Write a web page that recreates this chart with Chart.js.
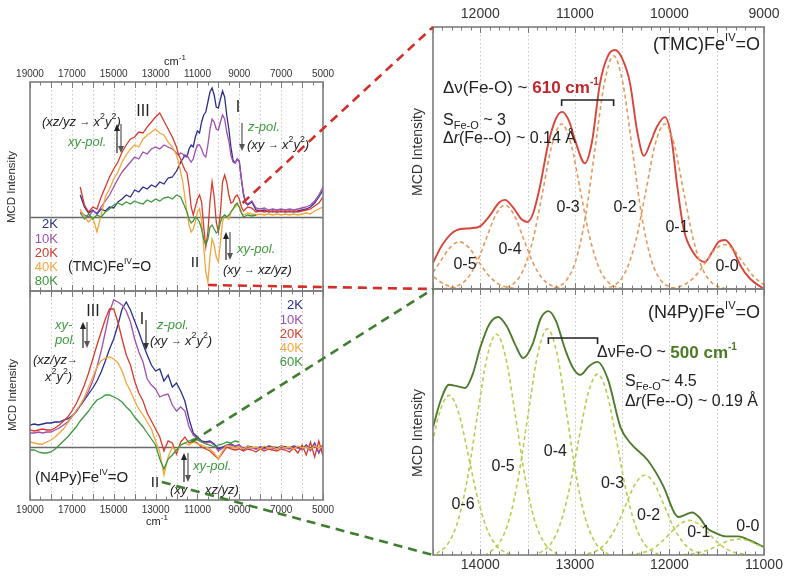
<!DOCTYPE html>
<html>
<head>
<meta charset="utf-8">
<script src="https://cdn.jsdelivr.net/npm/chart.js@4.4.1/dist/chart.umd.min.js"></script>
<style>
  body { margin: 0; background: #fff; }
  #wrap { position: relative; width: 800px; height: 581px; background: #fff; }
  #wrap canvas { position: absolute; left: 0; top: 0; }
</style>
</head>
<body>
<div id="wrap">
  <canvas id="tmcSpec" width="800" height="581"></canvas>
  <canvas id="n4pySpec" width="800" height="581"></canvas>
  <canvas id="tmcFit" width="800" height="581"></canvas>
  <canvas id="n4pyFit" width="800" height="581"></canvas>
  <canvas id="links" width="800" height="581"></canvas>
</div>
<script>
// ---- left top: (TMC)Fe(IV)=O MCD spectra, wavenumber grid in cm-1
const tmcWave = [
  16600, 16400, 16200, 16000, 15800, 15600, 15400, 15200, 15000, 14800, 14600, 14400,
  14200, 14000, 13800, 13600, 13400, 13200, 13000, 12800, 12600, 12400, 12200, 12000,
  11900, 11800, 11700, 11600, 11500, 11400, 11300, 11200, 11100, 11000, 10900, 10800,
  10700, 10600, 10500, 10400, 10300, 10200, 10100, 10000, 9900, 9800, 9700, 9600,
  9500, 9400, 9300, 9200, 9100, 9000, 8900, 8800, 8700, 8600,
  8400, 8200, 8000, 7800, 7600, 7400, 7200, 7000, 6800, 6600, 6400, 6200, 6000, 5800, 5600, 5400, 5200, 5000
];
const tmc2K = [
  .22, .10, .04, .07, .03, .08, .06, .10, .09, .15, .18, .22,
  .20, .27, .25, .30, .28, .32, .30, .35, .33, .39, .40, .46,
  .50, .55, .58, .62, .60, .68, .72, .70, .80, .86, .84, .95,
  1.02, 1.05, 1.15, 1.25, 1.29, 1.22, 1.10, 1.09, 1.18, 1.26, 1.20, 1.02,
  .88, .70, .57, .54, .58, .56, .38, .22, .14, .12,
  .15, .07, .06, .07, .05, .06, .05, .06, .05, .06, .05, .06, .07, .08, .10, .14, .20, .27
];
const tmc10K = [
  .05, .02, .00, .06, .04, .10, .16, .22, .30, .38, .45, .50,
  .55, .60, .58, .65, .63, .68, .70, .68, .72, .70, .68, .64,
  .62, .64, .63, .60, .62, .58, .55, .58, .66, .72, .72, .68,
  .62, .60, .72, .88, .98, .95, .88, .87, .95, 1.02, .98, .85,
  .76, .62, .55, .54, .58, .55, .38, .24, .15, .13,
  .16, .09, .08, .09, .07, .08, .07, .08, .07, .08, .07, .08, .09, .10, .12, .16, .22, .30
];
const tmc20K = [
  .30, .12, .05, .10, .08, .20, .30, .40, .48, .55, .65, .72,
  .78, .80, .85, .84, .90, .95, 1.00, 1.04, .96, .88, .80, .70,
  .62, .58, .52, .47, .44, .30, .10, .02, .10, .18, .22, .15,
  -.10, -.30, -.15, .15, .35, .20, -.05, -.15, .05, .35, .42, .35,
  .22, .14, .15, .20, .22, .18, .10, .06, .08, .10,
  .09, .05, .06, .05, .06, .05, .06, .05, .06, .05, .06, .05, .06, .07, .08, .11, .14, .20
];
const tmc40K = [
  .08, .00, -.05, .00, -.15, .02, .20, .28, .38, .45, .55, .62,
  .68, .72, .70, .78, .82, .85, .88, .84, .82, .75, .70, .62,
  .55, .45, .35, .20, .05, -.08, -.15, -.12, -.05, .05, .08, -.05,
  -.30, -.55, -.65, -.40, -.22, -.28, -.40, -.45, -.25, -.05, .02, .00,
  -.02, .05, .08, .10, .12, .10, .05, .02, .03, .04,
  .03, .02, .03, .02, .03, .02, .03, .02, .03, .02, .03, .02, .03, .04, .03, .06, .08, .10
];
const tmc80K = [
  .04, -.02, .03, -.02, .02, .00, .05, .08, .12, .14, .12, .15,
  .13, .16, .14, .13, .17, .15, .18, .16, .19, .20, .18, .22,
  .21, .20, .15, .10, .05, -.02, -.06, -.04, .00, -.02, -.05, -.12,
  -.22, -.28, -.22, -.10, -.08, -.12, -.16, -.14, -.05, .00, .02, .00,
  .02, .05, .08, .12, .14, .10, .04, .00, .01, .02,
  .01, .02, null, null, null, null, null, null, null, null, null, null, null, null, null, null, null, null
];

// ---- left bottom: (N4Py)Fe(IV)=O MCD spectra
const n4pyWave = [
  19000, 18800, 18600, 18400, 18200, 18000, 17800, 17600, 17400, 17200,
  17000, 16800, 16600, 16400, 16200, 16000, 15800, 15600, 15400, 15200,
  15000, 14800, 14600, 14400, 14200, 14000, 13800, 13600, 13400, 13200,
  13000, 12800, 12600, 12400, 12200, 12000, 11800, 11600, 11400, 11200,
  11000, 10800, 10600, 10400, 10200, 10000, 9800, 9600, 9400, 9200,
  9000, 8800, 8600, 8400, 8200, 8000, 7800, 7600, 7400, 7200,
  7000, 6800, 6600, 6400, 6200, 6000, 5800, 5600, 5400, 5200,
  5000
];
const n4py2K = [
  .22, .23, .22, .23, .24, .24, .25, .25, .27, .28,
  .31, .35, .41, .47, .53, .59, .66, .75, .86, .98,
  1.08, 1.22, 1.38, 1.45, 1.37, 1.26, 1.15, 1.03, .92, .82,
  .76, .78, .66, .72, .60, .64, .56, .46, .28, .14,
  .10, .06, .05, .06, .03, -.02, .00, .02, .03, .01,
  .02, -.03, .01, .00, -.02, .00, -.01, .01, .00, -.01,
  .01, .00, -.01, .01, .00, -.02, .02, -.03, .04, -.06,
  .03
];
const n4py10K = [
  .14, .14, .15, .14, .15, .15, .17, .19, .22, .25,
  .30, .36, .42, .48, .56, .66, .80, .96, 1.15, 1.35,
  1.47, 1.45, 1.42, 1.36, 1.25, 1.08, .95, .85, .68, .62,
  .58, .50, .52, .53, .42, .36, .40, .36, .20, .12,
  .08, .05, .04, .05, .02, -.04, -.01, .02, .02, .01,
  .02, -.02, .00, -.01, -.02, -.01, -.02, .00, -.01, -.02,
  .00, -.01, -.02, .00, -.01, -.03, .01, -.04, .03, -.05,
  .02
];
const n4py20K = [
  .17, .16, .17, .18, .17, .17, .19, .22, .26, .30,
  .36, .43, .52, .62, .74, .88, 1.02, 1.15, 1.28, 1.38,
  1.38, 1.25, 1.08, .92, .82, .66, .54, .46, .34, .26,
  .18, .10, -.04, .06, .04, -.07, .05, .10, .04, .06,
  .04, .00, -.02, -.04, -.08, -.12, -.06, .00, -.02, -.03,
  -.02, -.04, -.02, -.03, -.05, -.02, -.04, -.02, -.03, -.04,
  -.02, -.03, -.05, -.01, -.06, .02, -.08, .05, -.10, .06,
  -.09
];
const n4py40K = [
  .05, .04, .03, .03, .05, .07, .10, .14, .18, .24,
  .30, .36, .42, .50, .60, .70, .80, .86, .89, .90,
  .88, .84, .76, .64, .56, .46, .38, .32, .25, .18,
  .06, -.05, -.28, -.10, .00, -.04, .02, .04, .02, .05,
  .03, .02, .00, -.02, -.06, -.12, -.04, .02, .00, -.01,
  .00, -.02, .01, -.01, .00, -.02, .01, -.01, .00, -.02,
  .01, -.01, .00, -.02, .01, -.01, .00, -.02, .01, -.01,
  .00
];
const n4py60K = [
  -.03, -.03, -.05, -.06, -.06, -.05, -.02, .02, .06, .10,
  .15, .20, .26, .31, .36, .42, .47, .49, .52, .52,
  .50, .48, .45, .40, .36, .30, .25, .20, .14, .08,
  .02, -.12, -.22, -.12, -.08, -.03, .02, .04, .06, .08,
  .07, .05, .03, .02, .00, .02, .03, .05, .04, .06,
  .05, null, null, null, null, null, null, null, null, null,
  null, null, null, null, null, null, null, null, null, null,
  null
];
const tempLabelsTop = ['2K', '10K', '20K', '40K', '80K'];
const tempLabelsBottom = ['2K', '10K', '20K', '40K', '60K'];
const spectraTicks = [19000, 17000, 15000, 13000, 11000, 9000, 7000, 5000];

// ---- right top: (TMC) band fit, [cm-1, MCD] pairs
const tmcFit = [
  [12500, .10], [12400, .17], [12250, .225], [12100, .232], [12000, .24], [11900, .28], [11800, .33],
  [11740, .34], [11650, .31], [11560, .265], [11500, .256], [11440, .29], [11370, .39], [11280, .557],
  [11200, .65], [11136, .676], [11060, .64], [11000, .57], [10893, .48], [10820, .56], [10734, .786],
  [10650, .89], [10576, .912], [10500, .88], [10417, .786], [10340, .60], [10269, .508], [10200, .56],
  [10131, .62], [10047, .656], [9980, .58], [9920, .40], [9850, .23], [9750, .14], [9624, .103],
  [9550, .14], [9480, .18], [9412, .187], [9340, .16], [9250, .09], [9150, .04], [9000, .0]
];
const tmcBand00 = [[8770, 0], [8920, .006], [9020, .021], [9120, .052], [9220, .10], [9320, .149], [9420, .17], [9520, .149], [9620, .10], [9720, .052], [9820, .021], [9920, .006], [10070, 0]];
const tmcBand01 = [[9400, 0], [9550, .023], [9650, .077], [9750, .193], [9850, .372], [9950, .553], [10050, .63], [10150, .553], [10250, .372], [10350, .193], [10450, .077], [10550, .023], [10700, 0]];
const tmcBand02 = [[9940, 0], [10090, .033], [10190, .109], [10290, .272], [10390, .526], [10490, .781], [10590, .89], [10690, .781], [10790, .526], [10890, .272], [10990, .109], [11090, .033], [11240, 0]];
const tmcBand03 = [[10490, 0], [10640, .023], [10740, .077], [10840, .193], [10940, .372], [11040, .553], [11140, .63], [11240, .553], [11340, .372], [11440, .193], [11540, .077], [11640, .023], [11790, 0]];
const tmcBand04 = [[11090, 0], [11240, .012], [11340, .039], [11440, .098], [11540, .189], [11640, .281], [11740, .32], [11840, .281], [11940, .189], [12040, .098], [12140, .039], [12240, .012], [12390, 0]];
const tmcBand05 = [[11570, 0], [11720, .007], [11820, .022], [11920, .055], [12020, .106], [12120, .158], [12220, .18], [12320, .158], [12420, .106], [12520, .055], [12620, .022], [12720, .007], [12870, 0]];
const tmcBand06 = [[12110, 0], [12260, .004], [12360, .015], [12460, .037], [12560, .071], [12660, .105], [12760, .12]];
const tmcBandNames = ['0-5', '0-4', '0-3', '0-2', '0-1', '0-0'];
const tmcTicks = [12000, 11000, 10000, 9000];

// ---- right bottom: (N4Py) band fit
const n4pyFit = [
  [14500, .48], [14420, .58], [14330, .64], [14250, .635], [14160, .628], [14080, .68], [14000, .78],
  [13900, .87], [13811, .895], [13720, .86], [13630, .79], [13546, .74], [13450, .79], [13360, .89],
  [13280, .917], [13200, .88], [13100, .77], [13015, .70], [12941, .677], [12850, .71], [12761, .726],
  [12650, .66], [12517, .48], [12411, .42], [12231, .357], [12061, .256], [11950, .16], [11902, .143],
  [11840, .15], [11760, .16], [11680, .14], [11600, .10], [11531, .086], [11400, .07], [11270, .07],
  [11150, .055], [11000, .03]
];
const n4pyBand00 = [[10620, 0], [10770, .004], [10870, .01], [10970, .022], [11070, .038], [11170, .054], [11270, .06], [11370, .054], [11470, .038], [11570, .022], [11670, .01], [11770, .004], [11920, 0]];
const n4pyBand01 = [[11140, 0], [11290, .008], [11390, .021], [11490, .047], [11590, .083], [11690, .116], [11790, .13], [11890, .116], [11990, .083], [12090, .047], [12190, .021], [12290, .008], [12440, 0]];
const n4pyBand02 = [[11610, 0], [11760, .018], [11860, .049], [11960, .108], [12060, .19], [12160, .268], [12260, .30], [12360, .268], [12460, .19], [12560, .108], [12660, .049], [12760, .018], [12910, 0]];
const n4pyBand03 = [[12110, 0], [12260, .04], [12360, .111], [12460, .245], [12560, .432], [12660, .607], [12760, .68], [12860, .607], [12960, .432], [13060, .245], [13160, .111], [13260, .04], [13410, 0]];
const n4pyBand04 = [[12640, 0], [12790, .05], [12890, .139], [12990, .306], [13090, .54], [13190, .759], [13290, .85], [13390, .759], [13490, .54], [13590, .306], [13690, .139], [13790, .05], [13940, 0]];
const n4pyBand05 = [[13180, 0], [13330, .049], [13430, .135], [13530, .299], [13630, .527], [13730, .741], [13830, .83], [13930, .741], [14030, .527], [14130, .299], [14230, .135], [14330, .049], [14480, 0]];
const n4pyBand06 = [[13680, 0], [13830, .035], [13930, .098], [14030, .216], [14130, .381], [14230, .536], [14330, .60], [14430, .536], [14530, .381]];
const n4pyBandNames = ['0-6', '0-5', '0-4', '0-3', '0-2', '0-1', '0-0'];
const n4pyTicks = [14000, 13000, 12000, 11000];

const FONT = '"Liberation Sans", Arial, Helvetica, sans-serif';
const TXT = '#222';
const POL = '#3d9a3d';
const COL = { k2: '#2b2e8c', k10: '#a04fae', k20: '#d93a2b', k40: '#f5a63b', green: '#3c983c' };

// ---- drawing helpers
function rich(ctx, x, y, parts, align) {
  let w = 0;
  const segs = parts.map(p => {
    const o = p[2] || {};
    const f = (o.i ? 'italic ' : '') + (o.b ? 'bold ' : '') + p[1] + 'px ' + FONT;
    ctx.font = f;
    const pw = ctx.measureText(p[0]).width;
    w += pw;
    return { t: p[0], f, pw, dy: o.dy || 0, c: o.c || TXT };
  });
  let cx = align === 'right' ? x - w : align === 'center' ? x - w / 2 : x;
  ctx.save();
  ctx.textBaseline = 'middle';
  ctx.textAlign = 'left';
  segs.forEach(s => {
    ctx.font = s.f;
    ctx.fillStyle = s.c;
    ctx.fillText(s.t, cx, y + s.dy);
    cx += s.pw;
  });
  ctx.restore();
}
function vText(ctx, x, y, t, size) {
  ctx.save();
  ctx.translate(x, y);
  ctx.rotate(-Math.PI / 2);
  ctx.font = size + 'px ' + FONT;
  ctx.fillStyle = '#333';
  ctx.textAlign = 'center';
  ctx.textBaseline = 'middle';
  ctx.fillText(t, 0, 0);
  ctx.restore();
}
function vArrow(ctx, x, y1, y2, color) {
  const d = y2 > y1 ? 1 : -1;
  ctx.save();
  ctx.strokeStyle = color;
  ctx.fillStyle = color;
  ctx.lineWidth = 1.2;
  ctx.beginPath(); ctx.moveTo(x, y1); ctx.lineTo(x, y2 - 5 * d); ctx.stroke();
  ctx.beginPath(); ctx.moveTo(x, y2); ctx.lineTo(x - 3, y2 - 7 * d); ctx.lineTo(x + 3, y2 - 7 * d); ctx.closePath(); ctx.fill();
  ctx.restore();
}
function dblArrow(ctx, x, top, bottom) {
  vArrow(ctx, x, bottom, top, '#222');
  vArrow(ctx, x + 4, top, bottom, '#555');
}
// "x2y2" with superscripts
function x2y2(size) {
  const s = size * 0.68, dy = -size * 0.38;
  return [['x', size, { i: 1 }], ['2', s, { dy }], ['y', size, { i: 1 }], ['2', s, { dy }]];
}
function bracket(ctx, scale, v1, v2, y) {
  const a = scale.getPixelForValue(v1), b = scale.getPixelForValue(v2);
  ctx.save();
  ctx.strokeStyle = '#222';
  ctx.lineWidth = 1.6;
  ctx.beginPath();
  ctx.moveTo(a, y + 6); ctx.lineTo(a, y); ctx.lineTo(b, y); ctx.lineTo(b, y + 6);
  ctx.stroke();
  ctx.restore();
}

// frame: dotted grid, zero line, inward ticks, box
function frame(opts) {
  return {
    id: 'frame',
    beforeDatasetsDraw(chart) {
      const { ctx, chartArea: a, scales: { x, y } } = chart;
      ctx.save();
      ctx.strokeStyle = '#c6c6c6';
      ctx.lineWidth = 1;
      ctx.setLineDash([1.5, 2.5]);
      for (let v = x.min + opts.gridStep; v < x.max; v += opts.gridStep) {
        const px = Math.round(x.getPixelForValue(v)) + 0.5;
        ctx.beginPath(); ctx.moveTo(px, a.top); ctx.lineTo(px, a.bottom); ctx.stroke();
      }
      ctx.setLineDash([]);
      if (opts.zero) {
        const py = Math.round(y.getPixelForValue(0)) + 0.5;
        ctx.strokeStyle = '#6a6a6a';
        ctx.lineWidth = 1.3;
        ctx.beginPath(); ctx.moveTo(a.left, py); ctx.lineTo(a.right, py); ctx.stroke();
      }
      ctx.restore();
    },
    afterDatasetsDraw(chart) {
      const { ctx, chartArea: a, scales: { x } } = chart;
      ctx.save();
      ctx.strokeStyle = '#7a7a7a';
      ctx.lineWidth = 1;
      for (let v = x.min; v <= x.max; v += opts.tickStep) {
        const len = v % opts.majorStep === 0 ? 6 : 3.5;
        const px = Math.round(x.getPixelForValue(v)) + 0.5;
        ctx.beginPath();
        ctx.moveTo(px, a.top); ctx.lineTo(px, a.top + len);
        ctx.moveTo(px, a.bottom); ctx.lineTo(px, a.bottom - len);
        ctx.stroke();
      }
      ctx.lineWidth = 1.6;
      ctx.strokeStyle = '#7d7d7d';
      ctx.strokeRect(a.left, a.top, a.right - a.left, a.bottom - a.top);
      ctx.restore();
      if (opts.text) opts.text(chart, ctx);
    }
  };
}

const pts = (xs, ys) => xs.map((x, i) => ({ x, y: ys[i] }));
const pairs = arr => arr.map(p => ({ x: p[0], y: p[1] }));

function spec(label, xs, ys, color) {
  return { label, data: pts(xs, ys), borderColor: color, borderWidth: 1.3, pointRadius: 0, tension: 0, spanGaps: false, fill: false };
}
function band(arr, color) {
  return { data: pairs(arr), borderColor: color, borderWidth: 1.6, borderDash: [4, 3], pointRadius: 0, cubicInterpolationMode: 'monotone', fill: false };
}
function fitLine(arr, color) {
  return { data: pairs(arr), borderColor: color, borderWidth: 1.9, pointRadius: 0, cubicInterpolationMode: 'monotone', fill: false };
}

function opts(ax) {
  return {
    responsive: false,
    animation: false,
    events: [],
    layout: { padding: ax.pad },
    plugins: { legend: { display: false }, tooltip: { enabled: false } },
    scales: {
      x: {
        type: 'linear', position: ax.pos, reverse: true, min: ax.xMin, max: ax.xMax,
        grid: { display: false, drawTicks: false },
        border: { display: false },
        ticks: {
          autoSkip: false, maxRotation: 0,
          padding: ax.tickPad, color: '#333', font: { family: FONT, size: ax.tickSize },
          callback: v => String(v)
        },
        afterBuildTicks: s => { s.ticks = ax.ticks.map(v => ({ value: v })); },
        afterFit: s => { s.height = ax.axisH; }
      },
      y: { display: false, min: ax.yMin, max: ax.yMax }
    }
  };
}

// ---- texts for each panel
function tmcSpecText(chart, ctx) {
  vText(ctx, 12, 187, 'MCD Intensity', 11.5);
  rich(ctx, 175, 62, [['cm', 11], ['-1', 8, { dy: -4 }]], 'center');
  rich(ctx, 143, 112, [['III', 16]], 'center');
  rich(ctx, 42, 122, [['(xz/yz ', 13, { i: 1 }], ['\u2192 ', 11]].concat(x2y2(13), [[')', 13, { i: 1 }]]));
  rich(ctx, 68, 142, [['xy-pol.', 13, { i: 1, c: POL }]]);
  dblArrow(ctx, 117, 124, 153);
  rich(ctx, 238, 108, [['I', 16]], 'center');
  vArrow(ctx, 242, 123, 151, '#555');
  rich(ctx, 248, 127, [['z-pol.', 13, { i: 1, c: POL }]]);
  rich(ctx, 247, 145, [['(xy ', 13, { i: 1 }], ['\u2192 ', 11]].concat(x2y2(13), [[')', 13, { i: 1 }]]));
  const cols = [COL.k2, COL.k10, COL.k20, COL.k40, COL.green];
  const ys = [224, 239, 253, 267, 281];
  tempLabelsTop.forEach((t, i) => rich(ctx, 58, ys[i], [[t, 13, { c: cols[i] }]], 'right'));
  rich(ctx, 68, 267, [['(TMC)Fe', 14], ['IV', 8.5, { dy: -5 }], ['=O', 14]]);
  rich(ctx, 195, 263, [['II', 15]], 'center');
  dblArrow(ctx, 226, 232, 260);
  rich(ctx, 237, 249, [['xy-pol.', 13, { i: 1, c: POL }]]);
  rich(ctx, 223, 270, [['(xy ', 13, { i: 1 }], ['\u2192 ', 11], ['xz/yz)', 13, { i: 1 }]]);
}
function n4pySpecText(chart, ctx) {
  vText(ctx, 13, 395, 'MCD Intensity', 11.5);
  rich(ctx, 157, 522, [['cm', 11], ['-1', 8, { dy: -4 }]], 'center');
  rich(ctx, 93, 312, [['III', 16]], 'center');
  rich(ctx, 142, 320, [['I', 16]], 'center');
  rich(ctx, 55, 325, [['xy-', 13, { i: 1, c: POL }]]);
  rich(ctx, 55, 340, [['pol.', 13, { i: 1, c: POL }]]);
  dblArrow(ctx, 83, 322, 348);
  rich(ctx, 33, 360, [['(xz/yz', 13, { i: 1 }], ['\u2192', 11]]);
  rich(ctx, 45, 377, x2y2(13).concat([[')', 13, { i: 1 }]]));
  vArrow(ctx, 146, 320, 350, '#333');
  rich(ctx, 157, 325, [['z-pol.', 13, { i: 1, c: POL }]]);
  rich(ctx, 150, 341, [['(xy ', 13, { i: 1 }], ['\u2192 ', 11]].concat(x2y2(13), [[')', 13, { i: 1 }]]));
  const cols = [COL.k2, COL.k10, COL.k20, COL.k40, COL.green];
  const ys = [305, 320, 334, 348, 362];
  tempLabelsBottom.forEach((t, i) => rich(ctx, 303, ys[i], [[t, 13, { c: cols[i] }]], 'right'));
  rich(ctx, 35, 478, [['(N4Py)Fe', 15], ['IV', 9, { dy: -5 }], ['=O', 15]]);
  rich(ctx, 155, 483, [['II', 15]], 'center');
  dblArrow(ctx, 184, 453, 482);
  rich(ctx, 193, 466, [['xy-pol.', 13, { i: 1, c: POL }]]);
  rich(ctx, 170, 490, [['(xy ', 13, { i: 1 }], ['\u2192 ', 11], ['xz/yz)', 13, { i: 1 }]]);
}
function tmcFitText(chart, ctx) {
  const { x, y } = chart.scales;
  vText(ctx, 418, 152, 'MCD Intensity', 14);
  rich(ctx, 760, 45, [['(TMC)Fe', 18], ['IV', 11, { dy: -7 }], ['=O', 18]], 'right');
  rich(ctx, 443, 88, [['\u0394\u03bd(Fe-O) ~ ', 17], ['610 cm', 17, { b: 1, c: '#c0272d' }], ['-1', 10, { b: 1, c: '#c0272d', dy: -6 }]]);
  bracket(ctx, x, 11140, 10590, 100);
  rich(ctx, 443, 121, [['S', 16], ['Fe-O', 11, { dy: 5 }], [' ~ 3', 16]]);
  rich(ctx, 443, 139, [['\u0394', 16], ['r', 16, { i: 1 }], ['(Fe--O) ~ 0.14 \u00c5', 16]]);
  const at = [[12162, .092], [11686, .149], [11072, .309], [10470, .309], [9920, .233], [9391, .084]];
  tmcBandNames.forEach((t, i) => rich(ctx, x.getPixelForValue(at[i][0]), y.getPixelForValue(at[i][1]), [[t, 16]], 'center'));
}
function n4pyFitText(chart, ctx) {
  const { x, y } = chart.scales;
  vText(ctx, 418, 433, 'MCD Intensity', 14);
  rich(ctx, 760, 313, [['(N4Py)Fe', 18], ['IV', 11, { dy: -7 }], ['=O', 18]], 'right');
  bracket(ctx, x, 13280, 12760, 338);
  rich(ctx, 597, 353, [['\u0394\u03bdFe-O ~ ', 16], ['500 cm', 17, { b: 1, c: '#4a7a22' }], ['-1', 10, { b: 1, c: '#4a7a22', dy: -6 }]]);
  rich(ctx, 625, 382, [['S', 16], ['Fe-O', 11, { dy: 5 }], ['~ 4.5', 16]]);
  rich(ctx, 625, 402, [['\u0394', 16], ['r', 16, { i: 1 }], ['(Fe--O) ~ 0.19 \u00c5', 16]]);
  const at = [[14182, .188], [13758, .331], [13206, .387], [12602, .27], [12220, .15], [11690, .083], [11170, .105]];
  n4pyBandNames.forEach((t, i) => rich(ctx, x.getPixelForValue(at[i][0]), y.getPixelForValue(at[i][1]), [[t, 16]], 'center'));
}

// ---- charts
const leftTop = new Chart(document.getElementById('tmcSpec'), {
  type: 'line',
  data: {
    datasets: [
      spec('80K', tmcWave, tmc80K, COL.green),
      spec('40K', tmcWave, tmc40K, COL.k40),
      spec('20K', tmcWave, tmc20K, COL.k20),
      spec('10K', tmcWave, tmc10K, COL.k10),
      spec('2K', tmcWave, tmc2K, COL.k2)
    ]
  },
  options: opts({ pad: { left: 30, right: 477, top: 66, bottom: 290 }, pos: 'top', xMin: 5000, xMax: 19000, ticks: spectraTicks,
    yMin: -0.74, yMax: 1.35, axisH: 16, tickPad: 2, tickSize: 10 }),
  plugins: [frame({ gridStep: 1000, tickStep: 500, majorStep: 1000, zero: true, text: tmcSpecText })]
});

const leftBottom = new Chart(document.getElementById('n4pySpec'), {
  type: 'line',
  data: {
    datasets: [
      spec('60K', n4pyWave, n4py60K, COL.green),
      spec('40K', n4pyWave, n4py40K, COL.k40),
      spec('20K', n4pyWave, n4py20K, COL.k20),
      spec('10K', n4pyWave, n4py10K, COL.k10),
      spec('2K', n4pyWave, n4py2K, COL.k2)
    ]
  },
  options: opts({ pad: { left: 30, right: 477, top: 291, bottom: 61 }, pos: 'bottom', xMin: 5000, xMax: 19000, ticks: spectraTicks,
    yMin: -0.53, yMax: 1.56, axisH: 20, tickPad: 4, tickSize: 10 }),
  plugins: [frame({ gridStep: 1000, tickStep: 500, majorStep: 1000, zero: true, text: n4pySpecText })]
});

const TMC_BAND = '#e59a5c';
const rightTop = new Chart(document.getElementById('tmcFit'), {
  type: 'line',
  data: {
    datasets: [
      band(tmcBand00, TMC_BAND), band(tmcBand01, TMC_BAND), band(tmcBand02, TMC_BAND), band(tmcBand03, TMC_BAND),
      band(tmcBand04, TMC_BAND), band(tmcBand05, TMC_BAND), band(tmcBand06, TMC_BAND),
      fitLine(tmcFit, '#d8453a')
    ]
  },
  options: opts({ pad: { left: 433, right: 36, top: 5, bottom: 292 }, pos: 'top', xMin: 9000, xMax: 12500, ticks: tmcTicks,
    yMin: 0, yMax: 1, axisH: 22, tickPad: 4, tickSize: 14 }),
  plugins: [frame({ gridStep: 500, tickStep: 100, majorStep: 500, zero: false, text: tmcFitText })]
});

const N4PY_BAND = '#bccb4e';
const rightBottom = new Chart(document.getElementById('n4pyFit'), {
  type: 'line',
  data: {
    datasets: [
      band(n4pyBand00, N4PY_BAND), band(n4pyBand01, N4PY_BAND), band(n4pyBand02, N4PY_BAND), band(n4pyBand03, N4PY_BAND),
      band(n4pyBand04, N4PY_BAND), band(n4pyBand05, N4PY_BAND), band(n4pyBand06, N4PY_BAND),
      fitLine(n4pyFit, '#4f7b2c')
    ]
  },
  options: opts({ pad: { left: 433, right: 36, top: 289, bottom: 4 }, pos: 'bottom', xMin: 11000, xMax: 14500, ticks: n4pyTicks,
    yMin: 0, yMax: 1, axisH: 22, tickPad: 2, tickSize: 14 }),
  plugins: [frame({ gridStep: 500, tickStep: 100, majorStep: 500, zero: false, text: n4pyFitText })]
});

// ---- dashed zoom connectors between the panels
const lk = document.getElementById('links').getContext('2d');
function link(from, to, cx, cy, toBottom, color) {
  const a = to.chartArea;
  lk.save();
  lk.strokeStyle = color;
  lk.lineWidth = 2.6;
  lk.setLineDash([9, 6]);
  lk.beginPath();
  lk.moveTo(from.scales.x.getPixelForValue(cx), from.scales.y.getPixelForValue(cy));
  lk.lineTo(a.left, toBottom ? a.bottom : a.top);
  lk.stroke();
  lk.restore();
}
link(leftTop, rightTop, 8840, 0.14, false, '#d22f28');
link(leftTop, rightTop, 10500, -0.68, true, '#d22f28');
link(leftBottom, rightBottom, 11300, 0.05, false, '#3f7d2f');
link(leftBottom, rightBottom, 12700, -0.35, true, '#3f7d2f');
</script>
</body>
</html>
